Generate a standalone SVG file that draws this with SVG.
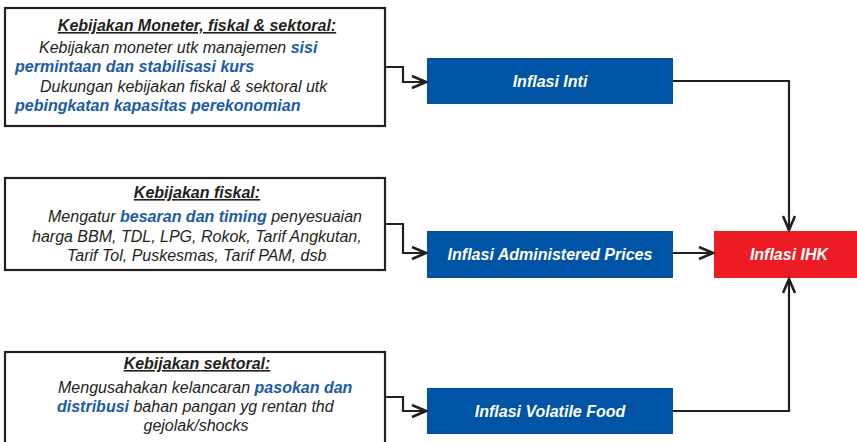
<svg xmlns="http://www.w3.org/2000/svg" width="857" height="442" viewBox="0 0 857 442">
  <style>
    text { font-family: "Liberation Sans", Arial, sans-serif; font-size: 16px; font-style: italic; fill: #231f20; }
    .title { font-weight: bold; text-decoration: underline; }
    .hl { font-weight: bold; fill: #1b5aa8; }
    .node-label { font-weight: bold; fill: #ffffff; }
    .policy { fill: #ffffff; stroke: #231f20; stroke-width: 2.2; }
    .conn { fill: none; stroke: #231f20; stroke-width: 2.2; }
  </style>
  <defs>
    <marker id="arrow" markerUnits="userSpaceOnUse" markerWidth="18" markerHeight="16" refX="15" refY="7" orient="auto">
      <path d="M1,1 L15,7 L1,13" fill="none" stroke="#231f20" stroke-width="2.6"/>
    </marker>
  </defs>

  <rect width="857" height="442" fill="#ffffff"/>

  <!-- policy boxes -->
  <g id="kebijakan-moneter">
    <rect class="policy" x="5" y="8" width="380" height="118"/>
    <text class="title" x="197" y="31" text-anchor="middle">Kebijakan Moneter, fiskal &amp; sektoral:</text>
    <text x="39" y="53">Kebijakan moneter utk manajemen <tspan class="hl">sisi</tspan></text>
    <text class="hl" x="15" y="72">permintaan dan stabilisasi kurs</text>
    <text x="40" y="92">Dukungan kebijakan fiskal &amp; sektoral utk</text>
    <text class="hl" x="15" y="111">pebingkatan kapasitas perekonomian</text>
  </g>

  <g id="kebijakan-fiskal">
    <rect class="policy" x="5" y="178" width="380" height="92"/>
    <text class="title" x="197" y="198" text-anchor="middle">Kebijakan fiskal:</text>
    <text x="48" y="222">Mengatur <tspan class="hl">besaran dan timing</tspan> penyesuaian</text>
    <text x="32" y="242">harga BBM, TDL, LPG, Rokok, Tarif Angkutan,</text>
    <text x="67" y="261">Tarif Tol, Puskesmas, Tarif PAM, dsb</text>
  </g>

  <g id="kebijakan-sektoral">
    <rect class="policy" x="5" y="352" width="380" height="100"/>
    <text class="title" x="197" y="369" text-anchor="middle">Kebijakan sektoral:</text>
    <text x="58" y="393">Mengusahakan kelancaran <tspan class="hl">pasokan dan</tspan></text>
    <text x="57" y="412"><tspan class="hl">distribusi</tspan> bahan pangan yg rentan thd</text>
    <text x="196" y="431" text-anchor="middle">gejolak/shocks</text>
  </g>

  <!-- inflation components -->
  <g id="inflasi-inti">
    <rect x="427" y="58" width="246" height="46" fill="#0054a6"/>
    <text class="node-label" x="550" y="87" text-anchor="middle">Inflasi Inti</text>
  </g>

  <g id="inflasi-administered">
    <rect x="427" y="231" width="246" height="47" fill="#0054a6"/>
    <text class="node-label" x="550" y="260" text-anchor="middle">Inflasi Administered Prices</text>
  </g>

  <g id="inflasi-volatile">
    <rect x="427" y="388" width="246" height="46" fill="#0054a6"/>
    <text class="node-label" x="550" y="417" text-anchor="middle">Inflasi Volatile Food</text>
  </g>

  <g id="inflasi-ihk">
    <rect x="714" y="231" width="143" height="47" fill="#ed1c24"/>
    <text class="node-label" x="789" y="260" text-anchor="middle">Inflasi IHK</text>
  </g>

  <!-- connectors -->
  <g id="connectors">
    <path class="conn" d="M385,67 H403 V82 H426" marker-end="url(#arrow)"/>
    <path class="conn" d="M385,224 H403 V253 H426" marker-end="url(#arrow)"/>
    <path class="conn" d="M385,397 H403 V411 H426" marker-end="url(#arrow)"/>
    <path class="conn" d="M673,81 H789 V230" marker-end="url(#arrow)"/>
    <path class="conn" d="M673,253 H713" marker-end="url(#arrow)"/>
    <path class="conn" d="M673,411 H789 V279" marker-end="url(#arrow)"/>
  </g>
</svg>
